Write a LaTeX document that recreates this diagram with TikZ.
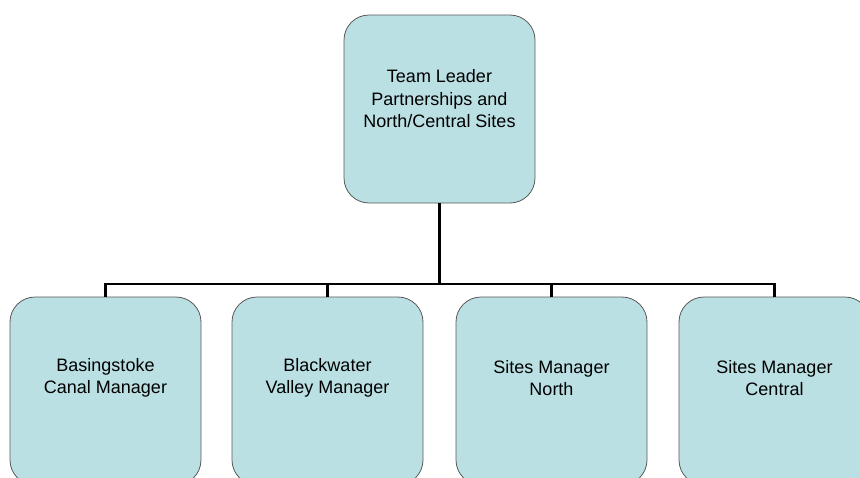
\documentclass[tikz,border=0pt]{standalone}
\usepackage{fontspec}
\setmainfont{Liberation Sans}
\usepackage{xcolor}
\usetikzlibrary{positioning, calc}
\definecolor{boxfill}{RGB}{187,224,227}

\begin{document}
\begin{tikzpicture}[x=1pt, y=-1pt,
  orgbox/.style={draw=black!65, line width=0.8pt, fill=boxfill, rounded corners=25pt,
    minimum width=191pt, minimum height=188pt, inner sep=0pt},
  boxtext/.style={align=center, inner sep=0pt, font=\fontsize{18}{22.5}\selectfont},
  conn/.style={line width=2.6pt, black}]
\useasboundingbox (0,0) rectangle (860,477); %page size
% top box
\node[orgbox] (lead) at (439.5,109) {};
\node[boxtext] (leadtext) at ([yshift=10pt]lead.center) {Team Leader\\Partnerships and\\North/Central Sites};
% bottom row
\node[orgbox] (canal) at (105.5,391) {};
\node[orgbox] (valley) at (327.5,391) {};
\node[orgbox] (north) at (551.5,391) {};
\node[orgbox] (central) at (774.5,391) {};
\node[boxtext] (canaltext) at ([yshift=13pt]canal.center) {Basingstoke\\Canal Manager};
\node[boxtext] (valleytext) at ([yshift=13pt]valley.center) {Blackwater\\Valley Manager};
\node[boxtext] (northtext) at ([yshift=13pt]north.center) {Sites Manager\\North};
\node[boxtext] (centraltext) at ([yshift=13pt]central.center) {Sites Manager\\Central};
% connectors
\coordinate (bus) at (439.5,284);
\draw[conn] (lead.south) -- (bus);
\draw[conn] (canal.north) |- (bus) -| (central.north);
\draw[conn] (valley.north) -- (valley.north |- bus);
\draw[conn] (north.north) -- (north.north |- bus);
\end{tikzpicture}
\end{document}
